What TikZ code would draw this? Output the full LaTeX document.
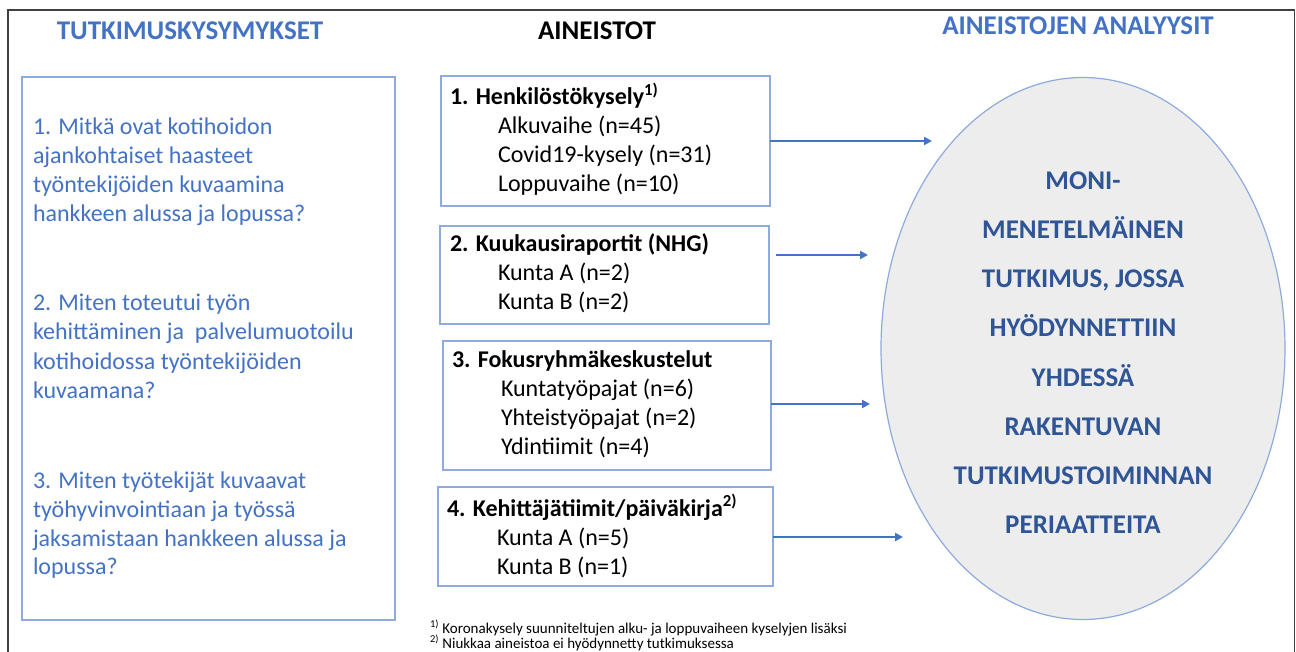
\documentclass[tikz,border=0pt]{standalone}
\usepackage{fontspec}
\setmainfont{Carlito}
\usetikzlibrary{arrows.meta,shapes.geometric}
\definecolor{qblue}{HTML}{4472C4}
\definecolor{dblue}{HTML}{2F5597}
\definecolor{lblue}{HTML}{8FAADC}
\definecolor{efill}{HTML}{EDEDED}
\definecolor{framec}{HTML}{404040}
\begin{document}
\begin{tikzpicture}[x=1pt,y=-1pt,
 every node/.style={inner sep=0pt, outer sep=0pt},
 box/.style={draw=lblue, line width=1.5pt, rectangle},
 qtext/.style={anchor=base west, font=\fontsize{24}{29}\selectfont, text=qblue},
 dtitle/.style={anchor=base west, font=\fontsize{24}{29}\selectfont\bfseries},
 dtext/.style={anchor=base west, font=\fontsize{24}{29}\selectfont},
 head/.style={anchor=base, font=\fontsize{27}{30}\selectfont\bfseries},
 etext/.style={anchor=base, font=\fontsize{27}{30}\selectfont\bfseries, text=dblue},
 fnote/.style={anchor=base west, font=\fontsize{15}{17}\selectfont},
 arr/.style={draw=qblue, line width=2.6pt, -{Triangle[length=8pt,width=8pt]}}
]
\useasboundingbox (0,0) rectangle (1296,652);
\fill[white] (0,0) rectangle (1296,652);
\draw[framec, line width=1.5pt] (8,660) -- (8,10) -- (1294.5,10) -- (1294.5,660);

% headings
\node[head, text=qblue] (h1) at (190,40) {TUTKIMUSKYSYMYKSET};
\node[head] (h2) at (597,40) {AINEISTOT};
\node[head, text=qblue] (h3) at (1078,35) {AINEISTOJEN ANALYYSIT};

% left box
\node[box, minimum width=373pt, minimum height=543pt] (qbox) at (208.5,348.5) {};
\node[qtext] (q1a) at (33,135) {1. Mitkä ovat kotihoidon};
\node[qtext] (q1b) at (33,164) {ajankohtaiset haasteet};
\node[qtext] (q1c) at (33,193) {työntekijöiden kuvaamina};
\node[qtext] (q1d) at (33,222) {hankkeen alussa ja lopussa?};
\node[qtext] (q2a) at (33,311) {2. Miten toteutui työn};
\node[qtext] (q2b) at (33,340) {kehittäminen ja~ palvelumuotoilu};
\node[qtext] (q2c) at (33,369) {kotihoidossa työntekijöiden};
\node[qtext] (q2d) at (33,398) {kuvaamana?};
\node[qtext] (q3a) at (33,488) {3. Miten työtekijät kuvaavat};
\node[qtext] (q3b) at (33,517) {työhyvinvointiaan ja työssä};
\node[qtext] (q3c) at (33,546) {jaksamistaan hankkeen alussa ja};
\node[qtext] (q3d) at (33,574) {lopussa?};

% data boxes
\node[box, minimum width=329pt, minimum height=130pt] (b1) at (605.5,141) {};
\node[dtitle] (b1t) at (450,105) {1. Henkilöstökysely\textsuperscript{1)}};
\node[dtext] (b1a) at (498,134) {Alkuvaihe (n=45)};
\node[dtext] (b1b) at (498,163) {Covid19-kysely (n=31)};
\node[dtext] (b1c) at (498,192) {Loppuvaihe (n=10)};

\node[box, minimum width=329pt, minimum height=98pt] (b2) at (604.5,275) {};
\node[dtitle] (b2t) at (450,252) {2. Kuukausiraportit (NHG)};
\node[dtext] (b2a) at (498,281) {Kunta A (n=2)};
\node[dtext] (b2b) at (498,310) {Kunta B (n=2)};

\node[box, minimum width=328pt, minimum height=129pt] (b3) at (607,405.5) {};
\node[dtitle] (b3t) at (452,367) {3. Fokusryhmäkeskustelut};
\node[dtext] (b3a) at (501,396) {Kuntatyöpajat (n=6)};
\node[dtext] (b3b) at (501,425) {Yhteistyöpajat (n=2)};
\node[dtext] (b3c) at (501,454) {Ydintiimit (n=4)};

\node[box, minimum width=335pt, minimum height=99pt] (b4) at (605.5,536.5) {};
\node[dtitle] (b4t) at (447,516) {4. Kehittäjätiimit/päiväkirja\textsuperscript{2)}};
\node[dtext] (b4a) at (497,545) {Kunta A (n=5)};
\node[dtext] (b4b) at (497,574) {Kunta B (n=1)};

% ellipse
\node[draw=lblue, fill=efill, line width=1.2pt, ellipse, minimum width=404pt, minimum height=542pt] (ell) at (1083,348.5) {};
\node[etext] (e1t) at (1083,190) {MONI-};
\node[etext] (e2t) at (1083,239) {MENETELMÄINEN};
\node[etext] (e3t) at (1083,288) {TUTKIMUS, JOSSA};
\node[etext] (e4t) at (1083,337) {HYÖDYNNETTIIN};
\node[etext] (e5t) at (1083,386) {YHDESSÄ};
\node[etext] (e6t) at (1083,435) {RAKENTUVAN};
\node[etext] (e7t) at (1083,484) {TUTKIMUSTOIMINNAN};
\node[etext] (e8t) at (1083,533) {PERIAATTEITA};

% arrows
\coordinate (a1) at (932,141);
\coordinate (a2s) at (776,255);
\coordinate (a2) at (868,255);
\coordinate (a3) at (870,404);
\coordinate (a4) at (903,537);
\draw[arr] (b1.east) -- (a1);
\draw[arr] (a2s) -- (a2);
\draw[arr] (b3.east |- a3) -- (a3);
\draw[arr] (b4.east |- a4) -- (a4);

% footnotes
\node[fnote] (f1) at (430,633) {\textsuperscript{1)} Koronakysely suunniteltujen alku- ja loppuvaiheen kyselyjen lisäksi};
\node[fnote] (f2) at (430,648) {\textsuperscript{2)} Niukkaa aineistoa ei hyödynnetty tutkimuksessa};
\end{tikzpicture}
\end{document}
